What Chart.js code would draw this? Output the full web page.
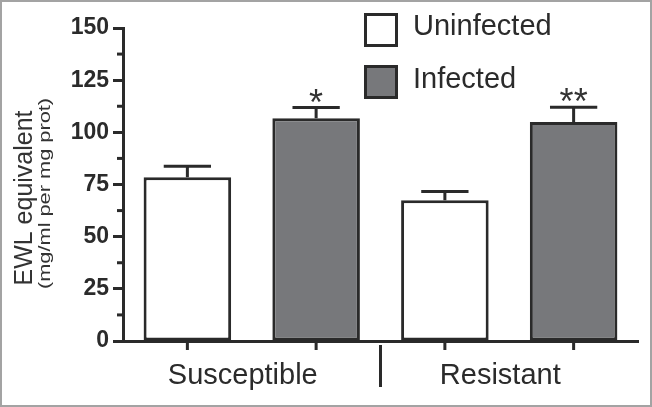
<!DOCTYPE html>
<html lang="en">
<head>
<meta charset="UTF-8">
<title>EWL equivalent</title>
<script src="https://cdn.jsdelivr.net/npm/chart.js"></script>
<style>
  html, body { margin: 0; padding: 0; background: #fff; }
  .frame { width: 652px; height: 407px; box-sizing: border-box; border: 2px solid #a3a3a3; position: relative; }
  .frame canvas { display: block; }
</style>
</head>
<body>
<div class="frame"><canvas id="ewlChart"></canvas></div>
<script>
// data
const groups = ['Susceptible', 'Resistant'];
const seriesNames = ['Uninfected', 'Infected'];
const uninfected = [78.5, 67.5];
const infected = [106.8, 105];
const uninfectedErr = [5.3, 4.1];
const infectedErr = [5.1, 7];
const infectedStars = ['*', '**'];
const yTicks = [0, 25, 50, 75, 100, 125, 150];
const yMinorTicks = [12.5, 37.5, 62.5, 87.5, 112.5, 137.5];
const yTitle = ['EWL equivalent', '(mg/ml per mg prot)'];

const ink = '#2a2a2a';
const fills = ['#ffffff', '#77787b'];
const sans = "'Liberation Sans', Arial, sans-serif";

const extras = {
  id: 'extras',
  afterDatasetsDraw(chart) {
    const ctx = chart.ctx;
    const y = chart.scales.y;
    const x = chart.scales.x;
    const area = chart.chartArea;
    const errs = [uninfectedErr, infectedErr];
    ctx.save();
    ctx.strokeStyle = ink;
    ctx.lineWidth = 3;
    chart.data.datasets.forEach((ds, di) => {
      chart.getDatasetMeta(di).data.forEach((bar, i) => {
        const top = y.getPixelForValue(ds.data[i] + errs[di][i]);
        const half = bar.width * 0.27;
        ctx.beginPath();
        ctx.moveTo(bar.x, bar.y);
        ctx.lineTo(bar.x, top);
        ctx.moveTo(bar.x - half, top);
        ctx.lineTo(bar.x + half, top);
        // tick mark under each bar
        ctx.moveTo(bar.x, area.bottom);
        ctx.lineTo(bar.x, area.bottom + 9);
        ctx.stroke();
        if (di === 1) {
          ctx.fillStyle = '#333';
          ctx.font = '36px ' + sans;
          ctx.textAlign = 'center';
          ctx.textBaseline = 'alphabetic';
          ctx.fillText(infectedStars[i], bar.x, top + 7);
        }
      });
    });
    // divider between the two groups
    const mid = (x.getPixelForValue(0) + x.getPixelForValue(1)) / 2;
    ctx.beginPath();
    ctx.moveTo(mid, area.bottom + 4);
    ctx.lineTo(mid, area.bottom + 46);
    ctx.stroke();
    // minor ticks on y
    yMinorTicks.forEach(v => {
      const py = y.getPixelForValue(v);
      ctx.beginPath();
      ctx.moveTo(area.left - 6, py);
      ctx.lineTo(area.left, py);
      ctx.stroke();
    });
    ctx.restore();
  },
  afterDraw(chart) {
    const ctx = chart.ctx;
    const area = chart.chartArea;
    ctx.save();
    // legend
    ctx.lineWidth = 3;
    ctx.strokeStyle = ink;
    ctx.font = '29px ' + sans;
    ctx.textAlign = 'left';
    ctx.textBaseline = 'alphabetic';
    seriesNames.forEach((name, i) => {
      const by = 12.5 + i * 52;
      ctx.fillStyle = fills[i];
      ctx.fillRect(363.5, by, 31, 31);
      ctx.strokeRect(363.5, by, 31, 31);
      ctx.fillStyle = '#2b2b2b';
      ctx.fillText(name, 411, 33 + i * 53);
    });
    // y title, two lines
    const cy = (area.top + area.bottom) / 2;
    ctx.fillStyle = '#333';
    ctx.textAlign = 'center';
    ctx.save();
    ctx.translate(30, cy + 13.5);
    ctx.rotate(-Math.PI / 2);
    ctx.font = '25px ' + sans;
    ctx.fillText(yTitle[0], 0, 0);
    ctx.restore();
    ctx.save();
    ctx.translate(48, cy + 9);
    ctx.rotate(-Math.PI / 2);
    ctx.scale(1.28, 1);
    ctx.font = '17px ' + sans;
    ctx.fillText(yTitle[1], 0, 0);
    ctx.restore();
    ctx.restore();
  }
};

new Chart(document.getElementById('ewlChart'), {
  type: 'bar',
  data: {
    labels: groups,
    datasets: [
      { label: seriesNames[0], data: uninfected, backgroundColor: fills[0] },
      { label: seriesNames[1], data: infected, backgroundColor: fills[1] }
    ]
  },
  options: {
    responsive: true,
    maintainAspectRatio: false,
    animation: false,
    layout: { padding: { top: 26, right: 12, left: 0, bottom: 0 } },
    datasets: {
      bar: {
        borderColor: ink,
        borderWidth: 3,
        borderSkipped: false,
        barPercentage: 0.68,
        categoryPercentage: 1.0
      }
    },
    plugins: {
      legend: { display: false },
      tooltip: { enabled: false }
    },
    scales: {
      x: {
        grid: { display: false },
        border: { color: ink, width: 3 },
        ticks: {
          color: '#2b2b2b',
          font: { family: sans, size: 29 },
          padding: 10,
          labelOffset: -9
        },
        afterFit: s => { s.height = 64; }
      },
      y: {
        min: 0,
        max: 150,
        afterBuildTicks: s => { s.ticks = yTicks.map(v => ({ value: v })); },
        grid: { drawOnChartArea: false, tickLength: 10, tickWidth: 3, tickColor: ink },
        border: { color: ink, width: 3 },
        ticks: {
          color: '#2b2b2b',
          font: { family: sans, size: 23, weight: 'bold' },
          padding: 4
        },
        afterFit: s => { s.width = 121; }
      }
    }
  },
  plugins: [extras]
});
</script>
</body>
</html>
